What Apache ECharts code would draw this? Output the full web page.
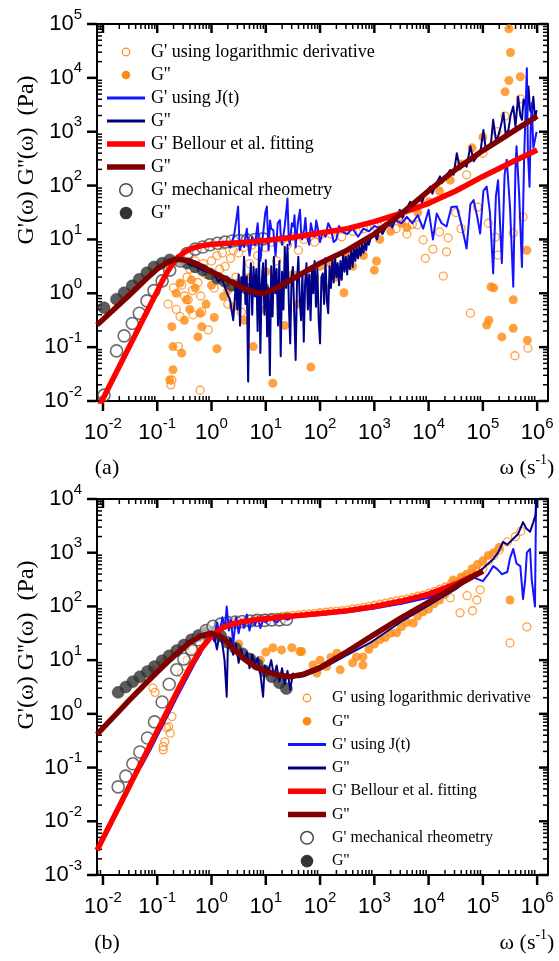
<!DOCTYPE html>
<html><head><meta charset="utf-8">
<script src="https://cdn.jsdelivr.net/npm/echarts@6/dist/echarts.min.js"></script>
<style>html,body{margin:0;padding:0;background:#fff}#c{width:559px;height:961px}</style>
</head><body><div id="c"></div>
<script>
// ---- tick exponents (axes are log10 decades) ----
const xTickExps = [-2,-1,0,1,2,3,4,5,6];
const aYTickExps = [-2,-1,0,1,2,3,4,5];
const bYTickExps = [-3,-2,-1,0,1,2,3,4];

// ---- Panel (a) data: log10(omega), log10(G) ----
const aFitGpW  = [-2.1,-2.0,-1.8,-1.6,-1.4,-1.2,-1.0,-0.9,-0.8,-0.7,-0.6,-0.5,-0.4,-0.2,0,0.5,1,1.5,2,2.5,3,3.5,4,4.5,5,5.5,6];
const aFitGpG  = [-2.16,-1.96,-1.56,-1.16,-0.76,-0.36,0.04,0.24,0.42,0.57,0.68,0.76,0.82,0.88,0.91,0.94,0.98,1.04,1.12,1.2,1.33,1.49,1.67,1.9,2.17,2.42,2.66];
const aFitGppW = [-2.11,-1.8,-1.5,-1.2,-1.0,-0.8,-0.7,-0.6,-0.4,-0.2,0,0.2,0.4,0.6,0.8,0.9,1.0,1.2,1.5,2,2.5,3,3.5,4,4.5,5,5.5,6];
const aFitGppG = [-0.59,-0.30,-0.02,0.27,0.45,0.58,0.62,0.63,0.6,0.51,0.40,0.30,0.19,0.09,0.02,0.0,0.01,0.1,0.27,0.56,0.8,1.1,1.48,1.9,2.3,2.65,2.97,3.29];
const aMechW   = [-1.98,-1.75,-1.61,-1.46,-1.33,-1.19,-1.06,-0.91,-0.77,-0.58,-0.45,-0.30,-0.16,-0.03,0.11,0.25,0.38,0.51,0.66,0.80,0.95];
const aMechGp  = [-1.89,-1.07,-0.79,-0.56,-0.37,-0.14,0.05,0.23,0.43,0.60,0.74,0.82,0.86,0.90,0.93,0.95,0.97,0.98,0.99,1.00,1.01];
const aMechGpp = [-0.27,-0.11,0.01,0.14,0.26,0.38,0.49,0.56,0.62,0.62,0.56,0.49,0.43,0.36,0.28,0.22,0.15,0.11,0.08,0.08,0.10];
const aJGpp = [[-0.45,0.55],[-0.35,0.52],[-0.25,0.47],[-0.15,0.42],[-0.05,0.40],[0.03,0.40],[0.12,0.22],[0.19,0.28],[0.27,0.05],[0.34,-0.12],[0.40,-0.50],
 [0.450,0.20],[0.475,-0.3],[0.500,0.35],[0.525,-0.6],[0.550,0.30],[0.575,0.1],[0.600,0.68],[0.625,-0.2],[0.650,0.31],[0.675,-1.64],[0.700,0.10],[0.725,0.56],[0.750,-0.4],[0.775,0.49],[0.800,-0.06],[0.825,0.45],[0.850,-0.7],[0.875,0.86],[0.900,-1.11],[0.925,0.2],[0.950,0.56],[0.975,-0.4],[1.000,0.62],[1.025,-0.8],[1.050,0.1],[1.075,-1.52],[1.100,0.5],[1.125,-0.43],[1.150,0.68],[1.175,0.0],[1.200,0.45],[1.225,-0.6],[1.250,0.6],[1.275,-1.17],[1.300,0.4],[1.325,-0.3],[1.350,0.86],[1.375,0.1],[1.400,0.9],[1.425,-0.2],[1.450,-0.93],[1.475,0.3],[1.500,0.49],[1.525,-0.4],[1.550,-1.24],[1.575,0.2],[1.600,0.68],[1.625,-0.1],[1.650,-0.50],[1.675,0.4],[1.700,-0.90],[1.725,0.2],[1.750,0.56],[1.775,-0.3],[1.800,0.35],[1.825,-0.50],[1.850,0.5],[1.875,0.0],[1.900,0.6],[1.925,-0.25],[1.950,0.45],[1.975,-0.5],[2.000,-0.93],[2.025,0.3],[2.050,0.37],[2.075,-0.2],[2.100,0.65],[2.125,-0.13],[2.150,-0.37],[2.175,0.5],[2.200,0.1],[2.225,0.6],[2.250,0.2],[2.275,0.7],[2.300,0.3],[2.325,0.56],[2.350,0.15],[2.375,0.6],[2.400,0.25],[2.425,0.75],[2.450,0.4],[2.475,0.68],[2.500,0.35],[2.525,0.7],[2.550,0.45],[2.575,0.8],[2.600,0.49],[2.625,0.85],[2.650,0.6],[2.675,0.85],[2.700,0.65],[2.725,0.86],[2.750,0.7],[2.775,0.9],[2.800,0.75],[2.825,0.95],[2.850,0.8],[2.875,1.0],[2.900,0.9],[2.925,1.0],
 [3.0,1.1],[3.05,1.0],[3.1,1.24],[3.15,1.1],[3.2,1.2],[3.29,1.36],[3.33,1.22],[3.38,1.35],[3.47,1.55],[3.52,1.4],[3.56,1.5],[3.66,1.70],[3.70,1.55],[3.75,1.65],[3.84,1.79],[3.88,1.68],[3.93,1.85],[4.03,1.98],[4.07,1.85],[4.12,2.0],[4.21,2.17],[4.25,2.05],[4.30,2.15],[4.40,2.29],[4.46,2.2],[4.52,2.60],[4.58,2.3],[4.64,2.42],[4.70,2.35],[4.77,2.73],[4.83,2.45],[4.89,2.54],[4.95,2.6],[5.01,3.03],[5.05,2.7],[5.10,2.73],[5.15,2.8],[5.19,3.22],[5.24,2.85],[5.28,2.91],[5.33,3.1],[5.38,3.35],[5.42,2.95],[5.47,3.03],[5.51,3.3],[5.56,3.47],[5.60,3.1],[5.65,3.65],[5.69,3.3],[5.72,3.22],[5.75,3.6],[5.78,3.53],[5.81,3.2],[5.84,3.84],[5.87,3.4],[5.90,3.35],[5.93,3.65],[5.96,3.22],[5.99,3.4]];
const aJGp = [[-0.35,0.82],[-0.25,0.86],[-0.15,0.88],[-0.05,0.9],[0.05,0.92],[0.15,0.9],[0.25,0.95],[0.35,0.85],[0.42,1.1],[0.49,1.61],[0.52,0.8],[0.56,0.95],[0.6,0.86],[0.65,1.2],[0.7,0.7],[0.75,1.05],[0.8,0.9],[0.85,1.3],[0.9,0.6],[0.95,1.1],[0.99,1.49],[1.02,1.61],[1.05,0.8],[1.08,1.35],[1.1,1.2],[1.14,1.17],[1.16,0.9],[1.18,0.7],[1.22,1.3],[1.26,1.36],[1.28,1.0],[1.3,0.9],[1.35,1.25],[1.40,1.76],[1.42,1.1],[1.44,0.9],[1.48,1.3],[1.51,1.24],[1.53,1.45],[1.55,0.85],[1.59,1.3],[1.63,1.55],[1.65,1.15],[1.67,1.0],[1.71,1.2],[1.73,1.4],[1.75,1.11],[1.8,0.9],[1.83,1.3],[1.85,1.2],[1.9,1.05],[1.93,1.35],[1.95,1.25],[2.0,0.95],[2.05,1.15],[2.1,1.05],[2.15,1.3],[2.2,1.2],[2.25,0.95],[2.3,1.0],[2.35,1.25],[2.4,1.15],[2.5,1.1],[2.6,1.2],[2.7,1.05],[2.8,1.2],[2.9,1.15],[3.0,1.25],[3.1,1.2],[3.2,1.3],[3.3,1.25],[3.4,1.35],[3.5,1.3],[3.6,1.42],[3.7,1.3],[3.8,1.45],[3.9,1.2],[4.0,1.55],[4.08,1.0],[4.15,1.48],[4.24,1.3],[4.33,1.24],[4.42,1.6],[4.52,1.61],[4.6,1.3],[4.70,0.83],[4.77,1.65],[4.83,1.73],[4.9,1.4],[4.95,1.11],[5.01,1.9],[5.07,1.98],[5.13,1.5],[5.19,0.37],[5.24,1.8],[5.28,2.10],[5.35,0.56],[5.40,2.2],[5.44,2.48],[5.50,1.6],[5.56,0.12],[5.60,2.3],[5.62,2.73],[5.67,1.8],[5.72,0.49],[5.76,2.5],[5.81,4.18],[5.83,2.6],[5.86,1.98],[5.88,3.0],[5.90,3.53],[5.93,2.7],[5.96,2.73],[5.99,3.0]];
const aLogGp = [[-0.75,-1.70],[-0.73,-1.61],[-0.61,-0.99],[-0.58,-0.43],[-0.43,-0.12],[-0.55,0.15],[-0.34,-0.40],[-0.18,-0.34],[-0.06,-0.68],[-0.21,-1.80],[-0.8,-0.2],[-0.7,0.1],[-0.65,-0.3],[-0.5,-0.05],[-0.45,0.3],[-0.4,0.45],[-0.35,0.05],[-0.3,0.6],[-0.25,0.2],[-0.2,-0.05],[-0.15,0.55],[-0.1,0.35],[0.0,0.6],[0.05,0.1],[0.1,0.7],[0.15,0.45],[0.2,0.75],[0.25,0.5],[0.3,-0.2],[0.35,0.65],[0.4,0.8],[0.45,0.3],[0.5,0.75],[0.55,-0.35],[0.6,0.85],[0.7,0.55],[0.75,0.9],[0.85,0.7],[0.9,0.2],[1.0,0.85],[1.1,0.95],[1.2,0.6],[1.3,1.0],[1.4,0.9],[1.5,1.05],[1.6,0.8],[1.7,1.0],[1.8,1.05],[1.9,0.95],[2.0,1.08],[2.2,1.1],[2.4,1.05],[2.6,1.15],[2.8,1.2],[3.0,1.25],[3.2,1.3],[3.4,1.2],[3.5,1.38],[3.6,1.1],[3.7,1.28],[3.79,1.27],[3.9,0.99],[3.94,0.65],[4.08,0.82],[4.2,1.14],[4.27,0.32],[4.33,0.77],[4.36,1.03],[4.5,1.5],[4.6,1.2],[4.77,-0.37],[4.9,1.6],[5.1,1.3],[5.23,1.04],[5.26,3.0],[5.28,0.71],[5.41,3.29],[5.56,1.12],[5.59,-1.16],[5.69,3.61],[5.74,1.42],[5.83,-1.02],[5.0,2.6],[4.7,2.2]];
const aLogGpp = [[-0.77,-1.61],[-0.71,-1.42],[-0.73,-0.62],[-0.71,-0.99],[-0.55,-1.11],[-0.37,0.25],[-0.25,-0.81],[-0.18,-0.62],[0.10,-1.03],[0.22,-0.06],[0.40,-0.25],[0.77,-0.99],[1.13,-1.67],[-0.21,-0.37],[-0.46,-0.12],[-0.58,0.19],[-0.65,0.0],[-0.5,-0.5],[-0.4,-0.3],[-0.3,0.1],[-0.1,-0.2],[0.0,0.15],[0.05,-0.45],[0.15,0.3],[0.3,0.05],[0.5,0.2],[0.6,-0.5],[0.7,0.3],[0.9,-0.3],[1.0,0.4],[1.2,0.1],[1.35,-0.6],[1.5,0.35],[1.6,-0.2],[1.83,-1.37],[1.9,0.3],[2.0,0.5],[2.1,0.1],[2.2,0.55],[2.3,0.3],[2.44,0.01],[2.5,0.7],[2.6,0.5],[2.7,0.85],[2.8,0.7],[3.0,0.43],[3.04,0.60],[3.1,1.0],[3.3,1.15],[3.5,1.3],[3.6,1.22],[3.8,1.5],[4.0,1.7],[4.2,1.9],[4.4,2.1],[4.6,2.4],[4.8,2.7],[5.0,2.9],[5.07,-0.59],[5.11,-0.5],[5.15,0.12],[5.2,0.1],[5.35,-0.81],[5.41,3.74],[5.48,3.95],[5.48,4.91],[5.51,4.47],[5.56,-0.12],[5.56,-0.65],[5.69,4.02],[5.81,0.80],[5.82,-0.87]];

// ---- Panel (b) data ----
const bFitGpW  = [-2.11,-1.5,-1.0,-0.6,-0.4,-0.2,0,0.2,0.4,0.6,0.8,1.0,1.5,2,2.5,3,3.5,4,4.5,5.0];
const bFitGpG  = [-2.54,-1.32,-0.32,0.48,0.86,1.2,1.45,1.6,1.68,1.72,1.75,1.77,1.82,1.87,1.92,2.0,2.1,2.23,2.42,2.66];
const bFitGppW = [-2.11,-1.8,-1.5,-1.2,-1.0,-0.8,-0.6,-0.4,-0.2,0,0.2,0.4,0.6,0.8,1.0,1.2,1.45,1.7,2.0,2.5,3.0,3.5,4.0,4.5,5.0];
const bFitGppG = [-0.38,-0.05,0.27,0.58,0.78,0.98,1.16,1.33,1.45,1.5,1.42,1.22,1.02,0.88,0.79,0.73,0.69,0.74,0.86,1.16,1.48,1.79,2.08,2.38,2.66];
const bMechW   = [-1.72,-1.58,-1.45,-1.32,-1.18,-1.05,-0.91,-0.78,-0.64,-0.51,-0.37,-0.24,-0.10,0.03,0.17,0.30,0.44,0.57,0.71,0.84,0.98,1.11,1.25,1.38];
const bMechGp  = [-1.36,-1.16,-0.93,-0.71,-0.45,-0.15,0.22,0.55,0.82,1.02,1.2,1.38,1.55,1.63,1.67,1.70,1.71,1.72,1.73,1.74,1.74,1.75,1.75,1.76];
const bMechGpp = [0.40,0.50,0.60,0.69,0.79,0.88,0.99,1.08,1.18,1.28,1.38,1.46,1.51,1.52,1.45,1.33,1.22,1.12,1.02,0.92,0.80,0.69,0.58,0.47];
const bJGp = [[-1.3,-1.0],[-1.1,-0.62],[-1.0,-0.42],[-0.9,-0.22],[-0.8,-0.02],[-0.7,0.18],[-0.6,0.38],[-0.5,0.57],[-0.4,0.76],[-0.3,0.95],[-0.2,1.12],[-0.12,1.3],[-0.05,1.4],[0.0,1.5],[0.05,1.35],[0.1,1.7],[0.15,1.5],[0.2,1.8],[0.25,1.6],[0.28,2.0],[0.32,1.55],[0.36,1.75],[0.4,1.3],[0.45,1.8],[0.5,1.5],[0.55,1.75],[0.6,1.6],[0.65,1.85],[0.7,1.55],[0.75,1.78],[0.8,1.65],[0.85,1.8],[0.9,1.6],[0.95,1.75],[1.0,1.7],[1.1,1.8],[1.2,1.7],[1.3,1.8],[1.4,1.75],[1.5,1.8],[2.0,1.84],[2.5,1.89],[3.0,1.96],[3.5,2.05],[4.0,2.16],[4.3,2.3],[4.6,2.45],[4.8,2.55],[5.0,2.47],[5.1,2.6],[5.19,2.75],[5.26,2.7],[5.35,2.6],[5.45,2.64],[5.5,2.9],[5.56,3.07],[5.62,2.8],[5.69,2.75],[5.74,2.14],[5.78,2.5],[5.81,3.0],[5.87,3.07],[5.9,2.5],[5.96,2.0],[5.98,3.93],[6.01,4.5]];
const bJGpp = [[-1.0,0.75],[-0.6,1.12],[-0.3,1.4],[-0.1,1.5],[0.05,1.45],[0.1,1.2],[0.15,1.5],[0.2,1.3],[0.24,1.0],[0.28,0.32],[0.3,1.2],[0.35,1.4],[0.4,1.1],[0.45,1.3],[0.5,0.95],[0.55,1.2],[0.6,1.0],[0.65,1.15],[0.7,0.85],[0.75,1.1],[0.8,0.9],[0.85,1.05],[0.9,0.75],[0.95,0.32],[0.98,0.9],[1.05,0.8],[1.1,1.0],[1.15,0.7],[1.2,0.9],[1.25,0.6],[1.3,0.85],[1.35,0.55],[1.4,0.8],[1.45,0.45],[1.5,0.75],[1.6,0.68],[1.7,0.7],[1.8,0.74],[2.0,0.82],[2.5,1.1],[2.92,1.32],[3.5,1.72],[4.0,2.02],[4.5,2.32],[4.8,2.55],[4.97,2.68],[5.1,2.8],[5.19,2.88],[5.28,3.0],[5.37,3.2],[5.45,3.15],[5.56,3.26],[5.65,3.35],[5.74,3.57],[5.8,3.45],[5.87,3.39],[5.93,3.57],[5.97,3.7],[6.0,4.5]];
const bLogGpBand = [[0.3,1.68],[0.4,1.72],[0.5,1.74],[0.6,1.76],[0.7,1.78],[0.8,1.79],[0.9,1.8],[1.0,1.81],[1.1,1.82],[1.2,1.83],[1.3,1.84],[1.4,1.85],[1.5,1.86],[1.6,1.87],[1.7,1.88],[1.8,1.89],[1.9,1.9],[2.0,1.91],[2.1,1.92],[2.2,1.93],[2.3,1.94],[2.4,1.95],[2.5,1.96],[2.6,1.98],[2.7,1.99],[2.8,2.01],[2.9,2.03],[3.0,2.05],[3.1,2.07],[3.2,2.09],[3.3,2.11],[3.4,2.13],[3.5,2.15],[3.6,2.17],[3.7,2.19],[3.8,2.22],[3.9,2.24],[4.0,2.27],[4.1,2.31],[4.2,2.35],[4.3,2.39],[4.4,2.44],[4.5,2.48],[4.6,2.53],[4.7,2.58],[4.8,2.63],[4.9,2.68]];
const bLogGpScatter = [[-1.08,0.48],[-1.04,0.4],[-0.89,-0.67],[-0.86,-0.52],[-0.83,-0.26],[-0.79,-0.24],[-0.76,-0.36],[-0.73,-0.05],[-0.89,-0.61],[-0.55,0.76],[-0.45,1.0],[-0.35,1.2],[-0.25,1.3],[4.58,1.88],[4.81,1.92],[4.89,2.12],[4.95,2.31],[4.4,2.16],[4.71,2.2],[5.5,1.32],[5.81,1.62],[5.0,2.7],[5.1,2.85],[5.2,2.95],[5.3,3.05],[5.45,3.2],[5.6,3.3],[5.7,3.4]];
const bLogGpp = [[-1.08,0.82],[-0.9,0.95],[1.13,1.23],[1.29,1.19],[1.48,1.23],[1.63,1.16],[1.66,1.16],[1.87,0.91],[1.94,0.76],[2.12,0.88],[2.31,1.13],[2.37,0.82],[2.67,1.06],[2.79,0.91],[2.79,1.06],[2.6,0.95],[2.9,1.2],[3.0,1.3],[3.1,1.38],[3.2,1.42],[3.3,1.5],[3.41,1.51],[3.5,1.62],[3.6,1.7],[3.72,1.69],[3.8,1.82],[3.9,1.9],[4.0,1.95],[4.1,2.05],[4.2,2.12],[4.3,2.22],[4.45,2.49],[4.5,2.4],[4.6,2.55],[4.7,2.6],[4.8,2.7],[4.9,2.78],[5.0,2.85],[5.1,2.95],[5.2,3.0],[5.3,3.1],[5.5,2.12],[0.5,1.3],[0.7,1.05],[0.9,1.0],[1.0,1.15],[2.0,1.0],[2.2,1.05]];

// legend labels
const legendLabels = ["G' using logarithmic derivative","G''","G' using J(t)","G''","G' Bellour et al. fitting","G''","G' mechanical rheometry","G''"];

// ---- styling ----
const ORANGE='#ff8a12', BLUE='#1414ff', NAVY='#000088', RED='#ff0000', DRED='#800000', MECHE='#4a4a4a', MECHF='#333333';
const X_MIN=-2.11, X_MAX=6.2;
const yRanges=[[-2,5],[-3,4]];
const yTickSets=[aYTickExps,bYTickExps];
const CW=559;
const grids=[{left:97,right:11,top:24,height:377},{left:97,right:11,top:499,height:376}];

function minorList(lo,hi){const r=[];for(let k=Math.floor(lo)-1;k<=Math.ceil(hi);k++){for(let m=2;m<=9;m++){const v=k+Math.log10(m);if(v>lo&&v<hi)r.push(v);}}return r;}
function fmtExp(v){return '{b|10}{s|'+Math.round(v)+'}';}
const labelRich={b:{fontFamily:'Liberation Sans',fontSize:22,lineHeight:34,color:'#000'},s:{fontFamily:'Liberation Sans',fontSize:15,verticalAlign:'top',color:'#000'}};

const xAxes=[], yAxes=[];
for(let g=0;g<2;g++){
  const base={type:'value',gridIndex:g,splitLine:{show:false},axisPointer:{show:false},axisTick:{show:false}};
  const line={show:true,onZero:false,lineStyle:{color:'#000',width:2}};
  xAxes.push(Object.assign({},base,{min:X_MIN,max:X_MAX,position:'bottom',axisLine:line,
    axisLabel:{show:true,customValues:xTickExps,margin:15,formatter:fmtExp,rich:labelRich}}));
  xAxes.push(Object.assign({},base,{min:X_MIN,max:X_MAX,position:'top',axisLine:line,axisLabel:{show:false}}));
  const yr=yRanges[g], yt=yTickSets[g];
  yAxes.push(Object.assign({},base,{min:yr[0],max:yr[1],position:'left',axisLine:line,
    axisLabel:{show:true,customValues:yt,margin:15,formatter:fmtExp,rich:labelRich}}));
  yAxes.push(Object.assign({},base,{min:yr[0],max:yr[1],position:'right',axisLine:line,axisLabel:{show:false}}));
}

function zip(w,g){return w.map((v,i)=>[v,g[i]]);}
function lineS(name,data,color,width,g){return {name,type:'line',xAxisIndex:g*2,yAxisIndex:g*2,data,symbol:'none',showSymbol:false,
  lineStyle:{color,width,join:'round'},itemStyle:{color},silent:true,animation:false,clip:true};}
function scatS(name,data,size,itemStyle,g){return {name,type:'scatter',xAxisIndex:g*2,yAxisIndex:g*2,data,symbol:'circle',symbolSize:size,
  itemStyle,silent:true,animation:false,clip:true};}

const openOr={color:'rgba(255,255,255,0)',borderColor:ORANGE,borderWidth:1.3};
const fillOr={color:ORANGE,borderWidth:0};
const mechOpen={color:'rgba(255,255,255,0.6)',borderColor:MECHE,borderWidth:1.6};
const mechFill={color:MECHF,borderColor:'#222',borderWidth:0.5};

const bOpenData = bLogGpBand.map(p=>({value:p,symbolSize:5})).concat(bLogGpScatter.map(p=>({value:p,symbolSize:8})));

const series=[
  scatS('aLogGp',aLogGp,8,openOr,0),
  scatS('aLogGpp',aLogGpp,9,fillOr,0),
  lineS('aJGpp',aJGpp,NAVY,2,0),
  lineS('aJGp',aJGp,BLUE,2,0),
  lineS('aFitGp',zip(aFitGpW,aFitGpG),RED,5.5,0),
  lineS('aFitGpp',zip(aFitGppW,aFitGppG),DRED,5.5,0),
  scatS('aMechGpp',zip(aMechW,aMechGpp),12,mechFill,0),
  scatS('aMechGp',zip(aMechW,aMechGp),12,mechOpen,0),
  scatS('bLogGp',bOpenData,8,openOr,1),
  scatS('bLogGpp',bLogGpp,9,fillOr,1),
  lineS('bJGp',bJGp,BLUE,2,1),
  lineS('bJGpp',bJGpp,NAVY,2,1),
  lineS('bFitGp',zip(bFitGpW,bFitGpG),RED,5.5,1),
  lineS('bFitGpp',zip(bFitGppW,bFitGppG),DRED,5.5,1),
  scatS('bMechGpp',zip(bMechW,bMechGpp),12,mechFill,1),
  scatS('bMechGp',zip(bMechW,bMechGp),12,mechOpen,1)
];

// ---- legends (drawn as graphic elements) ----
const legendKinds=[
  {t:'c',r:3.8,fill:'rgba(255,255,255,0)',stroke:ORANGE,lw:1.2},
  {t:'c',r:4.3,fill:ORANGE},
  {t:'l',w:3,c:BLUE},{t:'l',w:3,c:NAVY},{t:'l',w:5.5,c:RED},{t:'l',w:5.5,c:DRED},
  {t:'c',r:6.3,fill:'#fff',stroke:MECHE,lw:1.5},{t:'c',r:6.3,fill:MECHF}];
function legendGraphics(x0,y0,pitch,fs){
  const els=[];
  legendKinds.forEach((k,i)=>{
    const y=y0+pitch*i;
    if(k.t==='c') els.push({type:'circle',silent:true,shape:{cx:x0+19,cy:y,r:k.r},style:{fill:k.fill,stroke:k.stroke||null,lineWidth:k.lw||0}});
    else els.push({type:'line',silent:true,shape:{x1:x0,y1:y,x2:x0+38,y2:y},style:{stroke:k.c,lineWidth:k.w}});
    els.push({type:'text',silent:true,x:x0+44,y:y,style:{text:legendLabels[i],font:fs+'px "Liberation Serif"',fill:'#000',verticalAlign:'middle'}});
  });
  return els;
}

// ---- tick marks as small filled rects (same linear mapping as the grid's value axes) ----
function tickGraphics(g){
  const gr=grids[g], yr=yRanges[g], W=CW-gr.left-gr.right, H=gr.height;
  const X=v=>gr.left+(v-X_MIN)/(X_MAX-X_MIN)*W;
  const Y=v=>gr.top+(yr[1]-v)/(yr[1]-yr[0])*H;
  const yb=gr.top+H, yt=gr.top, xl=gr.left, xr=gr.left+W;
  const els=[];
  const box=(x,y,w,h)=>els.push({type:'rect',silent:true,shape:{x:x,y:y,width:w,height:h},style:{fill:'#000'}});
  xTickExps.forEach(v=>{const x=X(v);box(x-1.25,yb,2.5,10);box(x-1.25,yt,2.5,9);});
  minorList(X_MIN,X_MAX).forEach(v=>{const x=X(v);box(x-0.75,yb-5,1.5,5);box(x-0.75,yt,1.5,5);});
  yTickSets[g].forEach(v=>{const y=Y(v);box(xl-10,y-1.25,10,2.5);box(xr-9,y-1.25,9,2.5);});
  minorList(yr[0],yr[1]).forEach(v=>{const y=Y(v);box(xl,y-0.75,5,1.5);box(xr-5,y-0.75,5,1.5);});
  return els;
}

const serif='"Liberation Serif"';
const titleRich={n:{fontFamily:'Liberation Serif',fontSize:22,lineHeight:30,fill:'#000'},u:{fontFamily:'Liberation Serif',fontSize:14,verticalAlign:'top',fill:'#000'}};
const graphic=[
  {type:'text',x:27,y:160,rotation:Math.PI/2,style:{text:"G'(ω) G''(ω)  (Pa)",font:'24px '+serif,fill:'#000',align:'center',verticalAlign:'middle'}},
  {type:'text',x:27,y:645,rotation:Math.PI/2,style:{text:"G'(ω) G''(ω)  (Pa)",font:'24px '+serif,fill:'#000',align:'center',verticalAlign:'middle'}},
  {type:'text',x:107,y:468,style:{text:'(a)',font:'22px '+serif,fill:'#000',align:'center',verticalAlign:'middle'}},
  {type:'text',x:107,y:943,style:{text:'(b)',font:'22px '+serif,fill:'#000',align:'center',verticalAlign:'middle'}},
  {type:'text',x:527,y:468,style:{text:'{n|ω (s}{u|-1}{n|)}',rich:titleRich,align:'center',verticalAlign:'middle'}},
  {type:'text',x:527,y:943,style:{text:'{n|ω (s}{u|-1}{n|)}',rich:titleRich,align:'center',verticalAlign:'middle'}}
].concat(tickGraphics(0)).concat(tickGraphics(1)).concat(legendGraphics(107,52,23,18)).concat(legendGraphics(288,698,23.3,16));

const chart=echarts.init(document.getElementById('c'),null,{renderer:'canvas',width:559,height:961});
chart.setOption({backgroundColor:'#fff',animation:false,grid:grids,xAxis:xAxes,yAxis:yAxes,series,graphic});
</script></body></html>
